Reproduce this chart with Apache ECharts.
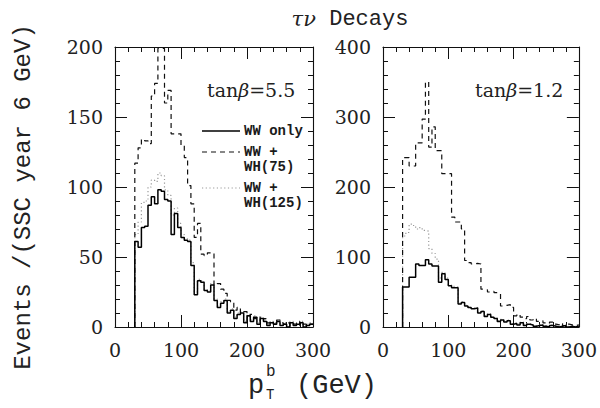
<!DOCTYPE html>
<html><head><meta charset="utf-8">
<script src="https://cdn.jsdelivr.net/npm/echarts@6/dist/echarts.min.js"></script>
<style>html,body{margin:0;padding:0;background:#fff}#c{width:600px;height:408px}</style>
</head><body><div id="c"></div>
<script>
// bin left edges (GeV), 5 GeV bins
const binStarts = [30,35,40,45,50,55,60,65,70,75,80,85,90,95,100,105,110,115,120,125,130,135,140,145,150,155,160,165,170,175,180,185,190,195,200,205,210,215,220,225,230,235,240,245,250,255,260,265,270,275,280,285,290,295];
const binEnd = 300;

// tanβ = 5.5 panel
const leftWW = [61,57,71,72,87,93,88,98,97,91, 90,66,81,71,64,62,61,44,23,33, 32,26,25,30,19,14,17,19,10,12, 6,9,10,3,8,4,7,2,6,4, 1,3,2,4,1,2,0,3,1,2, 3,0,1,2];
const leftWH75 = [117,128,134,133,131,165,174,199,199,160, 169,138,138,138,130,121,101,88,64,74, 52,51,53,53,30,31,27,24,19,18, 12,14,10,11,8,9,6,7,4,6, 3,4,2,5,3,2,3,1,2,4, 1,2,1,2];
const leftWH125 = [66,75,89,90,100,105,104,110,108,98, 94,80,85,74,66,63,62,46,25,34, 33,27,26,31,20,15,18,20,11,13, 7,10,11,4,9,5,8,3,7,5, 2,4,3,5,2,3,1,4,2,3, 4,1,2,3];

// tanβ = 1.2 panel
const rightWW = [57,57,71,71,90,88,88,96,90,87, 87,64,76,68,59,56,56,33,35,30, 28,26,27,20,22,15,18,14,12,8, 10,7,9,4,5,3,6,2,4,3, 1,2,3,1,0,2,1,0,1,2, 0,1,0,1];
const rightWH75 = [242,242,230,230,263,263,297,350,257,286, 252,252,219,219,219,157,150,150,140,95, 92,90,91,90,54,53,50,51,49,48, 30,31,32,28,16,18,14,12,15,10, 12,8,9,6,5,7,4,3,5,2, 4,3,2,3];
const rightWH125 = [130,135,147,145,140,142,138,137,112,105, 97,70,78,70,60,58,57,34,36,31, 29,27,28,21,23,16,19,15,13,9, 11,8,10,5,6,4,7,3,5,4, 2,3,4,2,1,3,2,1,2,3, 1,2,1,2];

const xRange = [0, 300];
const xInterval = 100;
const leftYRange = [0, 200];
const leftYInterval = 50;
const rightYRange = [0, 400];
const rightYInterval = 100;

const seriesNames = ['WW only', 'WW +', 'WH(75)', 'WW +', 'WH(125)'];
const panelLabels = [['tan', 'β', '=5.5'], ['tan', 'β', '=1.2']];
const titleText = ['τν', ' Decays'];
const yTitle = 'Events /(SSC year 6 GeV)';
const xTitle = ['p', 'b', 'T', '(GeV)'];

function steps(vals) {
  const pts = [[binStarts[0], 0]];
  vals.forEach((v, i) => pts.push([binStarts[i], v]));
  pts.push([binEnd, vals[vals.length - 1]]);
  return pts;
}

const labelFont = {fontFamily: 'DejaVu Serif', fontSize: 19, color: '#222'};
const grids = [
  {left: 115, top: 47, width: 198, height: 280},
  {left: 383, top: 47, width: 198, height: 280}
];

function xAx(g, pos, showLabel) {
  return {
    type: 'value', gridIndex: g, position: pos, min: xRange[0], max: xRange[1], interval: xInterval,
    axisLine: {show: true, onZero: false, lineStyle: {color: '#111', width: 1.1}},
    axisTick: {show: true, inside: true, length: 12, lineStyle: {color: '#111', width: 1}},
    minorTick: {show: true, splitNumber: 5, length: 5, lineStyle: {color: '#111', width: 1}},
    splitLine: {show: false},
    axisLabel: Object.assign({show: showLabel, margin: 13}, labelFont)
  };
}
function yAx(g, pos, showLabel, rng, itv) {
  return {
    type: 'value', gridIndex: g, position: pos, min: rng[0], max: rng[1], interval: itv,
    axisLine: {show: true, onZero: false, lineStyle: {color: '#111', width: 1.1}},
    axisTick: {show: true, inside: true, length: 12, lineStyle: {color: '#111', width: 1}},
    minorTick: {show: true, splitNumber: 5, length: 5, lineStyle: {color: '#111', width: 1}},
    splitLine: {show: false},
    axisLabel: Object.assign({show: showLabel, margin: 12}, labelFont)
  };
}

const styles = [
  {color: '#000', width: 1.5, type: 'solid'},
  {color: '#111', width: 1.2, type: [5, 4]},
  {color: '#999', width: 1.2, type: [1.2, 2.5]}
];
function ser(data, xi, yi, st, z) {
  return {
    type: 'line', xAxisIndex: xi, yAxisIndex: yi, data: steps(data), step: 'end',
    showSymbol: false, symbol: 'none', lineStyle: st, z: z, animation: false, silent: true
  };
}

const mono = 'Liberation Mono';
const legendText = {fontFamily: mono, fontWeight: 'bold', fontSize: 14, fill: '#1a1a1a', verticalAlign: 'middle'};
const tanRich = {
  r: {fontFamily: 'DejaVu Serif', fontSize: 19, fill: '#222'},
  i: {fontFamily: 'DejaVu Serif', fontStyle: 'italic', fontSize: 19, fill: '#222'}
};
function tanText(p) { return '{r|' + p[0] + '}{i|' + p[1] + '}{r|' + p[2] + '}'; }

const chart = echarts.init(document.getElementById('c'), null, {renderer: 'svg'});
chart.setOption({
  animation: false,
  backgroundColor: '#fff',
  grid: grids,
  xAxis: [xAx(0, 'bottom', true), xAx(0, 'top', false), xAx(1, 'bottom', true), xAx(1, 'top', false)],
  yAxis: [yAx(0, 'left', true, leftYRange, leftYInterval), yAx(0, 'right', false, leftYRange, leftYInterval),
          yAx(1, 'left', true, rightYRange, rightYInterval), yAx(1, 'right', false, rightYRange, rightYInterval)],
  series: [
    ser(leftWH125, 0, 0, styles[2], 2),
    ser(leftWH75, 0, 0, styles[1], 3),
    ser(leftWW, 0, 0, styles[0], 4),
    ser(rightWH125, 2, 2, styles[2], 2),
    ser(rightWH75, 2, 2, styles[1], 3),
    ser(rightWW, 2, 2, styles[0], 4)
  ],
  graphic: [
    {type: 'text', x: 350, y: 19, style: {
      text: '{g|' + titleText[0] + '}{m|' + titleText[1] + '}', align: 'center', verticalAlign: 'middle',
      rich: {g: {fontFamily: 'DejaVu Serif', fontStyle: 'italic', fontSize: 21, fill: '#222'},
             m: {fontFamily: mono, fontSize: 22, fill: '#222'}}}, z: 10},
    {type: 'text', x: 207, y: 90, style: {text: tanText(panelLabels[0]), rich: tanRich, verticalAlign: 'middle'}, z: 10},
    {type: 'text', x: 475, y: 90, style: {text: tanText(panelLabels[1]), rich: tanRich, verticalAlign: 'middle'}, z: 10},
    {type: 'line', shape: {x1: 202, y1: 131, x2: 240, y2: 131}, style: {stroke: '#000', lineWidth: 1.5}, z: 10},
    {type: 'line', shape: {x1: 202, y1: 152, x2: 240, y2: 152}, style: {stroke: '#111', lineWidth: 1.2, lineDash: [5, 4]}, z: 10},
    {type: 'line', shape: {x1: 202, y1: 188, x2: 240, y2: 188}, style: {stroke: '#999', lineWidth: 1.2, lineDash: [1.2, 2.5]}, z: 10},
    {type: 'text', x: 244, y: 131, style: Object.assign({text: seriesNames[0]}, legendText), z: 10},
    {type: 'text', x: 244, y: 152, style: Object.assign({text: seriesNames[1]}, legendText), z: 10},
    {type: 'text', x: 244, y: 167, style: Object.assign({text: seriesNames[2]}, legendText), z: 10},
    {type: 'text', x: 244, y: 188, style: Object.assign({text: seriesNames[3]}, legendText), z: 10},
    {type: 'text', x: 244, y: 203, style: Object.assign({text: seriesNames[4]}, legendText), z: 10},
    {type: 'text', x: 23, y: 197, rotation: Math.PI / 2, style: {text: yTitle, fontFamily: mono, fontSize: 24, fill: '#222', align: 'center', verticalAlign: 'middle'}, z: 10},
    {type: 'text', x: 248, y: 386, style: {text: xTitle[0], fontFamily: mono, fontSize: 27, fill: '#222', verticalAlign: 'middle'}, z: 10},
    {type: 'text', x: 266, y: 372, style: {text: xTitle[1], fontFamily: mono, fontSize: 16, fill: '#222', verticalAlign: 'middle'}, z: 10},
    {type: 'text', x: 266, y: 395, style: {text: xTitle[2], fontFamily: mono, fontSize: 14, fill: '#222', verticalAlign: 'middle'}, z: 10},
    {type: 'text', x: 296, y: 386, style: {text: xTitle[3], fontFamily: mono, fontSize: 27, fill: '#222', verticalAlign: 'middle'}, z: 10}
  ]
});
</script>
</body></html>
